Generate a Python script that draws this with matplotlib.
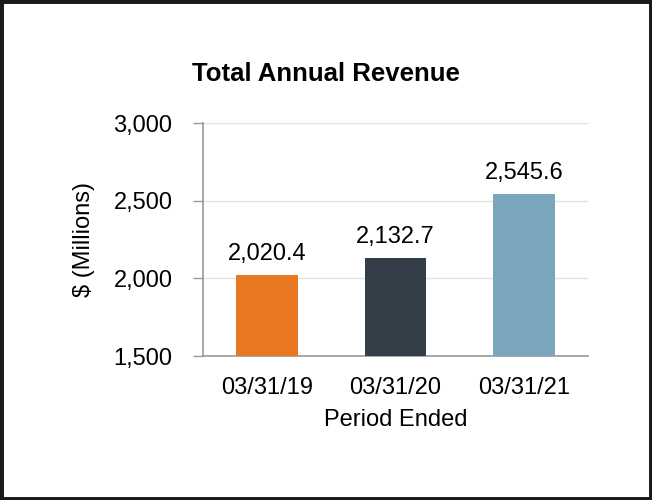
#!/usr/bin/env python3
"""Total annual revenue bar chart."""
import matplotlib
matplotlib.use('Agg')
from matplotlib import pyplot as plt
from matplotlib.patches import Rectangle

periods = ['03/31/19', '03/31/20', '03/31/21']
revenue = [2020.4, 2132.7, 2545.6]
bar_colors = ['#E87722', '#343E48', '#7BA7BE']
y_ticks = [1500, 2000, 2500, 3000]

plt.rcParams['font.family'] = ['Liberation Sans', 'DejaVu Sans']

fig = plt.figure(figsize=(6.52, 5.00), dpi=100)
ax = fig.add_axes([0.3113, 0.288, 0.5905, 0.466])

x = range(len(periods))
ax.bar(x, revenue, width=0.48, color=bar_colors, zorder=3)
for xi, val in zip(x, revenue):
    ax.annotate('{:,.1f}'.format(val), (xi, val), xytext=(0, 7),
                textcoords='offset points', ha='center', va='bottom',
                fontsize=17)

ax.set_xlim(-0.5, 2.5)
ax.set_ylim(1500, 3000)
ax.set_xticks(list(x))
ax.set_xticklabels(periods)
ax.set_yticks(y_ticks)
ax.set_yticklabels(['{:,}'.format(t) for t in y_ticks])
ax.tick_params(axis='x', length=0, labelsize=17, pad=15)
ax.tick_params(axis='y', length=7, width=1, color='#999999', labelsize=17, pad=15)

ax.grid(axis='y', color='#e3e3e3', linewidth=1, zorder=0)
for side in ['top', 'right']:
    ax.spines[side].set_visible(False)
for side in ['left', 'bottom']:
    ax.spines[side].set_color('#999999')
    ax.spines[side].set_linewidth(1.2)

ax.set_ylabel('$ (Millions)', fontsize=17, labelpad=13)
ax.set_xlabel('Period Ended', fontsize=17, labelpad=7)

fig.text(0.5, 0.852, 'Total Annual Revenue', ha='center', va='center',
         fontsize=18.5, fontweight='bold')

# black frame round the whole picture
fig.patches.append(Rectangle((0, 0), 1, 1, transform=fig.transFigure,
                             fill=False, edgecolor='#1a1a1a', linewidth=5))

fig.savefig('out.png', dpi=100)
